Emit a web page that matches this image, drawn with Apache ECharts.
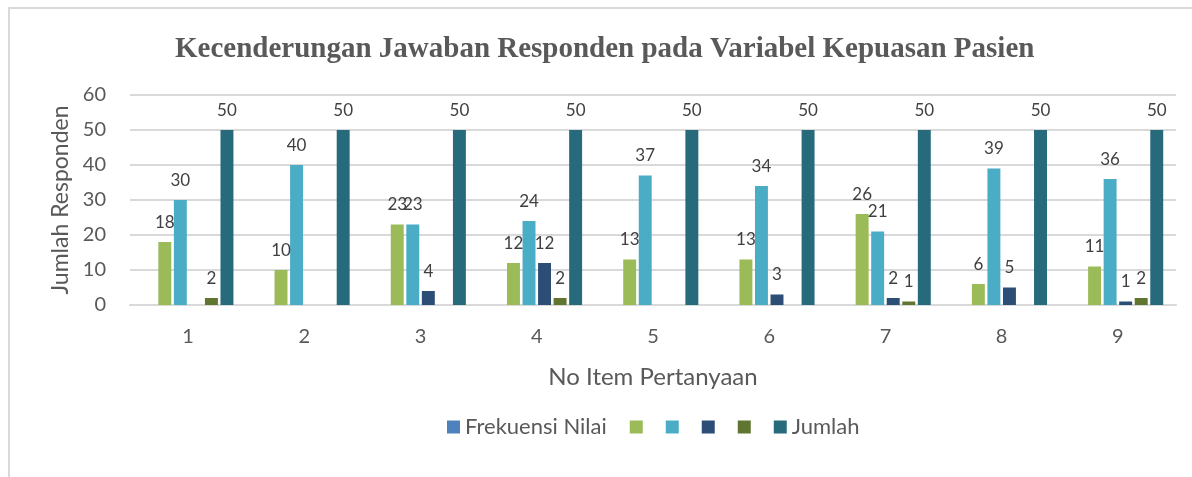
<!DOCTYPE html>
<html>
<head>
<meta charset="utf-8">
<script src="https://cdn.jsdelivr.net/npm/echarts@6/dist/echarts.min.js"></script>
<style>
  html, body { margin: 0; padding: 0; background: #fff; }
  #main { width: 1192px; height: 477px; }
</style>
</head>
<body>
<div id="main"></div>
<script>
// data
var items = ["1", "2", "3", "4", "5", "6", "7", "8", "9"];
var frekuensiNilai = [null, null, null, null, null, null, null, null, null];
var nilaiHijau = [18, 10, 23, 12, 13, 13, 26, 6, 11];
var nilaiBiruMuda = [30, 40, 23, 24, 37, 34, 21, 39, 36];
var nilaiBiruTua = [null, null, 4, 12, null, 3, 2, 5, 1];
var nilaiHijauTua = [2, null, null, 2, null, null, 1, null, 2];
var jumlah = [50, 50, 50, 50, 50, 50, 50, 50, 50];
var yTicks = [0, 10, 20, 30, 40, 50, 60];

var font = "Lato";
var textColor = "#595959";

function barSeries(name, data, color) {
  return {
    name: name,
    type: "bar",
    data: data,
    barGap: "20%",
    barCategoryGap: "22%",
    itemStyle: { color: color },
    label: {
      show: true,
      position: "top",
      distance: 11,
      fontFamily: font,
      fontSize: 17,
      color: "#404040"
    }
  };
}

var chart = echarts.init(document.getElementById("main"));
var option = {
  animation: false,
  backgroundColor: "#fff",
  textStyle: { fontFamily: font, color: textColor },
  title: {
    text: "Kecenderungan Jawaban Responden pada Variabel Kepuasan Pasien",
    left: 170,
    top: 30,
    textStyle: {
      fontFamily: "Liberation Serif",
      fontWeight: "bold",
      fontSize: 29,
      color: textColor
    }
  },
  graphic: [
    {
      type: "rect",
      shape: { x: 9, y: 8, width: 1400, height: 700 },
      style: { fill: null, stroke: "#d9d9d9", lineWidth: 2 },
      silent: true
    }
  ],
  legend: {
    left: 442,
    top: 411,
    itemWidth: 13,
    itemHeight: 13,
    itemGap: 23,
    icon: "rect",
    data: ["Frekuensi Nilai", "_a", "_b", "_c", "_d", "Jumlah"],
    formatter: function (name) {
      return name.charAt(0) === "_" ? "" : name;
    },
    textStyle: { fontFamily: font, fontSize: 22, color: textColor }
  },
  grid: { left: 130, right: 16, top: 95, bottom: 172 },
  xAxis: {
    type: "category",
    data: items,
    name: "No Item Pertanyaan",
    nameLocation: "middle",
    nameGap: 60,
    nameTextStyle: { fontFamily: font, fontSize: 24, color: textColor },
    axisLine: { lineStyle: { color: "#d9d9d9", width: 2 } },
    axisTick: { show: false },
    axisLabel: { fontFamily: font, fontSize: 20, color: textColor, margin: 22 }
  },
  yAxis: {
    type: "value",
    min: yTicks[0],
    max: yTicks[yTicks.length - 1],
    interval: 10,
    name: "Jumlah Responden",
    nameLocation: "middle",
    nameGap: 57,
    nameTextStyle: { fontFamily: font, fontSize: 23, color: textColor },
    axisLine: { show: false },
    axisTick: { show: false },
    axisLabel: { fontFamily: font, fontSize: 20, color: textColor, margin: 24 },
    splitLine: { lineStyle: { color: "#d9d9d9", width: 2 } }
  },
  series: [
    barSeries("Frekuensi Nilai", frekuensiNilai, "#4f81bd"),
    barSeries("_a", nilaiHijau, "#9bbb59"),
    barSeries("_b", nilaiBiruMuda, "#4bacc6"),
    barSeries("_c", nilaiBiruTua, "#2c4d75"),
    barSeries("_d", nilaiHijauTua, "#5f7530"),
    barSeries("Jumlah", jumlah, "#276a7c")
  ]
};
chart.setOption(option);
</script>
</body>
</html>
